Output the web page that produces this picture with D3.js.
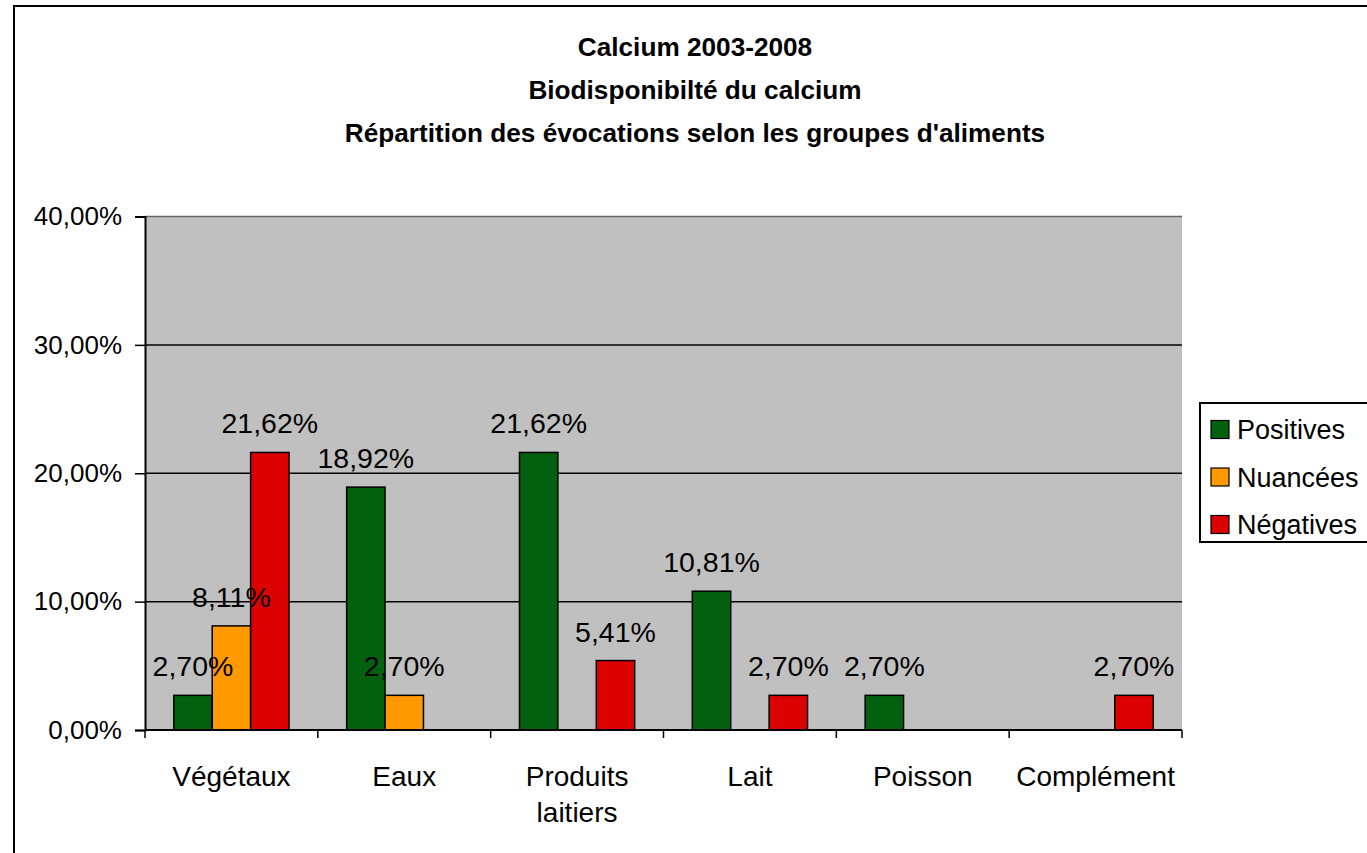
<!DOCTYPE html>
<html>
<head>
<meta charset="utf-8">
<script src="https://cdn.jsdelivr.net/npm/d3@7"></script>
<style>
  html, body { margin: 0; padding: 0; background: #fff; }
  svg { display: block; font-family: "Liberation Sans", Arial, sans-serif; }
</style>
</head>
<body>
<svg id="chart" width="1367" height="853"></svg>
<script>
const titleLines = ["Calcium 2003-2008", "Biodisponibilté du calcium", "Répartition des évocations selon les groupes d'aliments"];
const categories = [["Végétaux"], ["Eaux"], ["Produits", "laitiers"], ["Lait"], ["Poisson"], ["Complément"]];
const seriesNames = ["Positives", "Nuancées", "Négatives"];
const seriesColors = ["#03600F", "#FF9900", "#DD0202"];
const positives = [2.70, 18.92, 21.62, 10.81, 2.70, 0];
const nuancees  = [8.11, 2.70, 0, 0, 0, 0];
const negatives = [21.62, 0, 5.41, 2.70, 0, 2.70];
const yTicks = [0, 10, 20, 30, 40];

(function () {
const seriesValues = [positives, nuancees, negatives];
const svg = d3.select("#chart");

// outer border
svg.append("rect").attr("x", 14).attr("y", 6).attr("width", 1380).attr("height", 870)
  .attr("fill", "#fff").attr("stroke", "#000").attr("stroke-width", 2);

const pLeft = 145, pRight = 1182, pTop = 216.5, pBottom = 730;
const x = d3.scaleBand().domain(d3.range(categories.length)).range([pLeft, pRight]).paddingInner(0).paddingOuter(0);
const y = d3.scaleLinear().domain([0, 40]).range([pBottom, pTop]);
const bw = x.bandwidth() / 4.5;

// title
const title = svg.append("text").attr("text-anchor", "middle").attr("font-weight", "bold").attr("font-size", 26.2);
titleLines.forEach((t, i) => title.append("tspan").attr("x", 695).attr("y", 56 + i * 43).text(t));

// plot area
svg.append("rect").attr("x", pLeft).attr("y", pTop).attr("width", pRight - pLeft).attr("height", pBottom - pTop)
  .attr("fill", "#C0C0C0");

// gridlines
svg.append("g").selectAll("line").data(yTicks.filter(d => d > 0)).join("line")
  .attr("x1", pLeft).attr("x2", pRight).attr("y1", d => y(d)).attr("y2", d => y(d))
  .attr("stroke", d => d === 40 ? "#666" : "#000").attr("stroke-width", 1.5);

// bars
seriesValues.forEach((vals, si) => {
  svg.append("g").selectAll("rect").data(vals.map((v, i) => ({v, i})).filter(d => d.v > 0)).join("rect")
    .attr("x", d => x(d.i) + 0.75 * bw + si * bw)
    .attr("y", d => y(d.v))
    .attr("width", bw)
    .attr("height", d => y(0) - y(d.v))
    .attr("fill", seriesColors[si]).attr("stroke", "#000").attr("stroke-width", 1.5);
});

// y axis
const yAxis = svg.append("g").attr("transform", `translate(${pLeft},0)`)
  .call(d3.axisLeft(y).tickValues(yTicks).tickSize(10).tickPadding(13)
    .tickFormat(d => d3.format(".2f")(d).replace(".", ",") + "%"));
yAxis.select(".domain").attr("stroke", "#000").attr("stroke-width", 2);
yAxis.selectAll(".tick line").attr("stroke", "#000").attr("stroke-width", 1.5);
yAxis.selectAll(".tick text").attr("font-size", 26).attr("font-family", "Liberation Sans, Arial, sans-serif").attr("fill", "#000");

// x axis line and ticks
svg.append("line").attr("x1", pLeft).attr("x2", pRight).attr("y1", pBottom).attr("y2", pBottom)
  .attr("stroke", "#000").attr("stroke-width", 2);
svg.append("g").selectAll("line").data(d3.range(categories.length + 1)).join("line")
  .attr("x1", i => i < categories.length ? x(i) : pRight)
  .attr("x2", i => i < categories.length ? x(i) : pRight)
  .attr("y1", pBottom).attr("y2", pBottom + 8).attr("stroke", "#000").attr("stroke-width", 1.5);

// category labels
svg.append("g").selectAll("text").data(categories).join("text")
  .attr("text-anchor", "middle").attr("font-size", 28)
  .each(function(lines, i) {
    const t = d3.select(this);
    lines.forEach((l, j) => t.append("tspan").attr("x", x(i) + x.bandwidth() / 2).attr("y", 786 + j * 36).text(l));
  });

// data labels
seriesValues.forEach((vals, si) => {
  svg.append("g").selectAll("text").data(vals.map((v, i) => ({v, i})).filter(d => d.v > 0)).join("text")
    .attr("x", d => x(d.i) + 0.75 * bw + si * bw + bw / 2)
    .attr("y", d => y(d.v) - 19)
    .attr("text-anchor", "middle").attr("font-size", 28.5).attr("fill", "#000")
    .text(d => d3.format(".2f")(d.v).replace(".", ",") + "%");
});

// legend
const lg = svg.append("g");
lg.append("rect").attr("x", 1200).attr("y", 403).attr("width", 200).attr("height", 139)
  .attr("fill", "#fff").attr("stroke", "#000").attr("stroke-width", 2);
seriesNames.forEach((n, i) => {
  const cy = 429.5 + i * 47.5;
  lg.append("rect").attr("x", 1211).attr("y", cy - 9).attr("width", 18).attr("height", 18)
    .attr("fill", seriesColors[i]).attr("stroke", "#000").attr("stroke-width", 1.2);
  lg.append("text").attr("x", 1237).attr("y", cy + 9.5).attr("font-size", 27).text(n);
});
})();
</script>
</body>
</html>
